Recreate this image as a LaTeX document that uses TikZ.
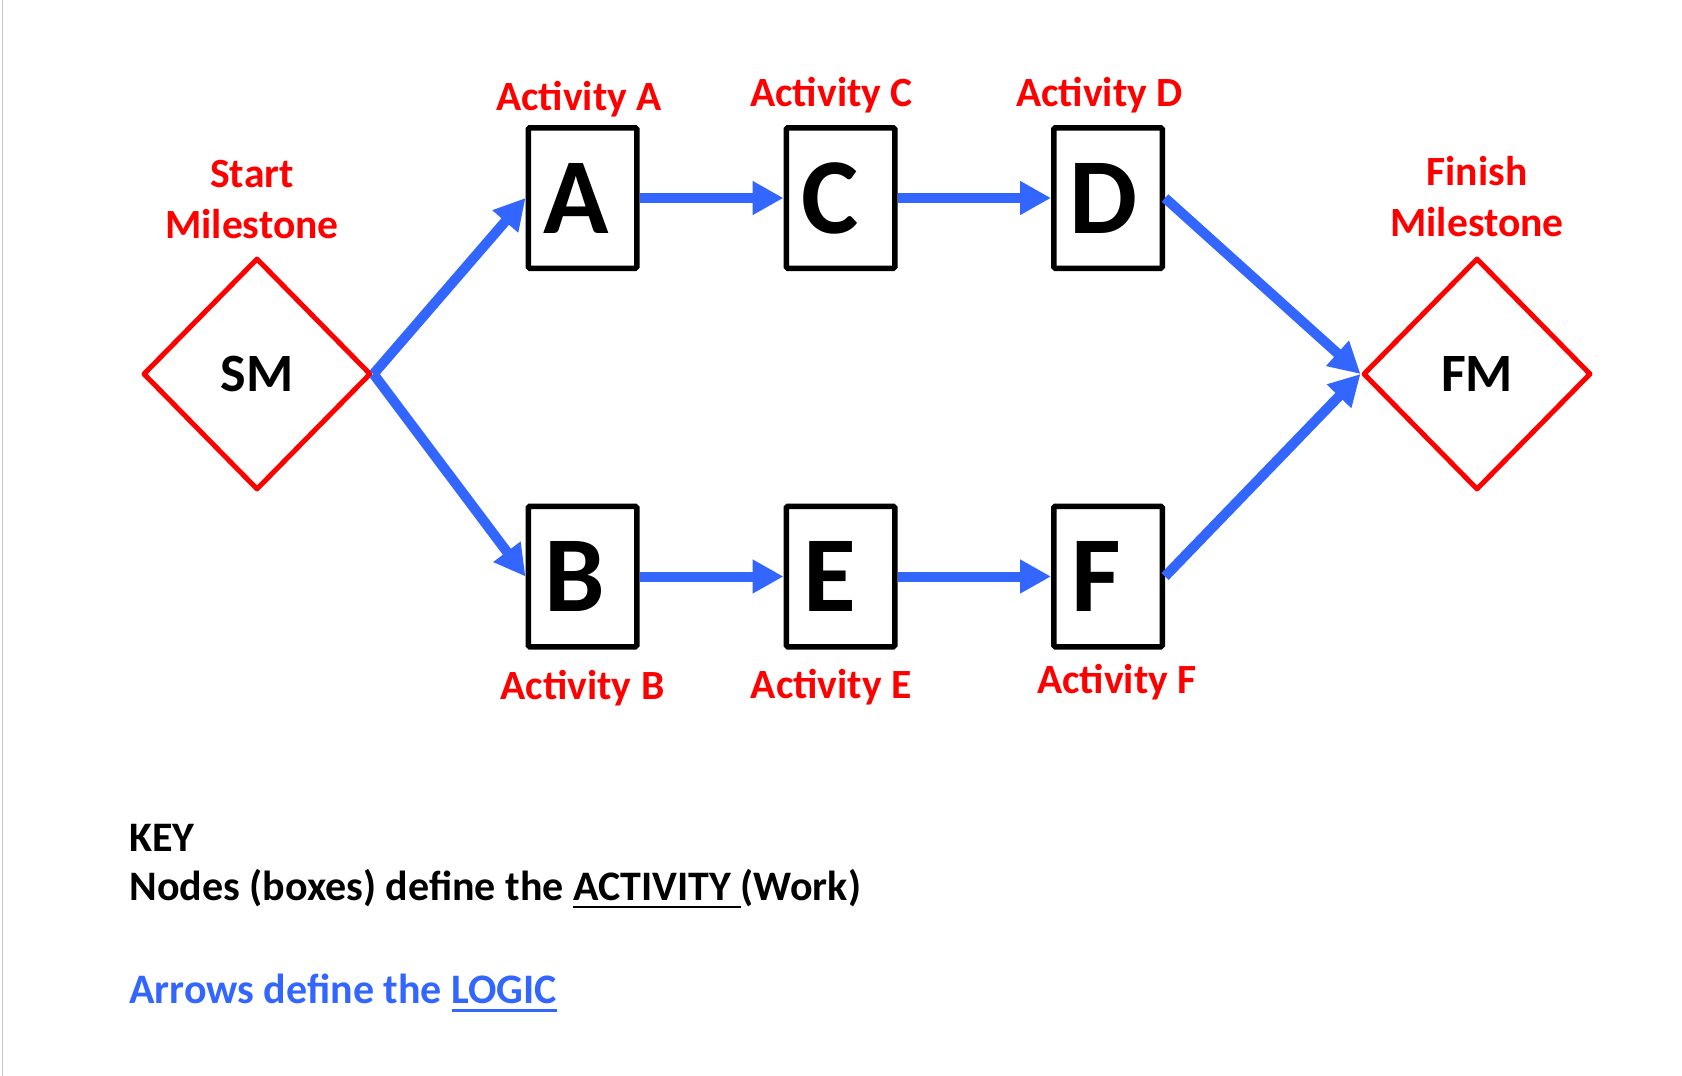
\documentclass[tikz,border=0pt]{standalone}
\usepackage{fontspec}
\setmainfont{Carlito}
\usetikzlibrary{arrows.meta,shapes.geometric}
\definecolor{msred}{RGB}{255,0,0}
\definecolor{logicblue}{RGB}{51,102,255}
\definecolor{edgegray}{RGB}{200,200,200}
\newcommand\keyul[1]{\setbox0\hbox{#1}\leavevmode\rlap{\rule[-4.15pt]{\wd0}{1.2pt}}\box0}
\newcommand\boxletter[2]{\kern-#1pt #2\kern#1pt}
\begin{document}
\begin{tikzpicture}[x=0.5pt,y=-0.5pt,
  milestone/.style={diamond, draw=msred, line width=2.5pt, line join=round,
    minimum width=114pt, minimum height=116pt, inner sep=0pt,
    font=\bfseries\fontsize{27}{32}\selectfont},
  activity/.style={rectangle, draw=black, line width=2.75pt, rounded corners=0.8pt,
    minimum width=54.25pt, minimum height=70.25pt, inner sep=0pt,
    font=\bfseries\fontsize{54}{60}\selectfont},
  actlabel/.style={text=msred, font=\bfseries\fontsize{20.8}{25.5}\selectfont,
    inner sep=0pt, anchor=base, align=center},
  logic/.style={draw=logicblue, line width=5pt, -{Triangle[length=15.5pt,width=16pt]}},
  keytext/.style={anchor=base west, inner sep=0pt, font=\bfseries\fontsize{21}{25}\selectfont}]
\useasboundingbox (0,0) rectangle (1682,1076);
\fill[white] (0,0) rectangle (1682,1076);
\draw[edgegray, line width=0.75pt] (2.5,0) -- (2.5,1076);

% milestones
\node[milestone] (SM) at (257,374) {SM};
\node[milestone] (FM) at (1477,374) {FM};

% activities
\node[activity] (A) at (582.5,198) {\boxletter{3.3}{A}};
\node[activity] (C) at (840.5,198) {\boxletter{5}{C}};
\node[activity] (D) at (1108,198) {\boxletter{2.2}{D}};
\node[activity] (B) at (582.5,576.5) {\boxletter{3.7}{B}};
\node[activity] (E) at (840.5,576.5) {\boxletter{5.5}{E}};
\node[activity] (F) at (1108,576.5) {\boxletter{6}{F}};

% labels
\node[actlabel] (lSM) at (252,238) {Start\\Milestone};
\node[actlabel] (lFM) at (1477,236.7) {Finish\\Milestone};
\node[actlabel] (lA) at (579,110) {Activity A};
\node[actlabel] (lC) at (831.6,106) {Activity C};
\node[actlabel] (lD) at (1099.6,106) {Activity D};
\node[actlabel] (lB) at (582.5,699) {Activity B};
\node[actlabel] (lE) at (831.3,698) {Activity E};
\node[actlabel] (lF) at (1117,693) {Activity F};

% logic arrows
\draw[logic] (SM.east) -- (A.west);
\draw[logic] (SM.east) -- (B.west);
\draw[logic] (A.east) -- (C.west);
\draw[logic] (C.east) -- (D.west);
\draw[logic] (B.east) -- (E.west);
\draw[logic] (E.east) -- (F.west);
\draw[logic] (D.east) -- (FM.west);
\draw[logic] (F.east) -- (FM.west);

% key
\node[keytext] (key) at (129,851.7) {KEY};
\node[keytext] (knodes) at (129,900) {Nodes (boxes) define the \keyul{ACTIVITY\ }(Work)};
\node[keytext, text=logicblue] (karrows) at (129,1003.3) {Arrows define the \keyul{LOGIC}};
\end{tikzpicture}
\end{document}
